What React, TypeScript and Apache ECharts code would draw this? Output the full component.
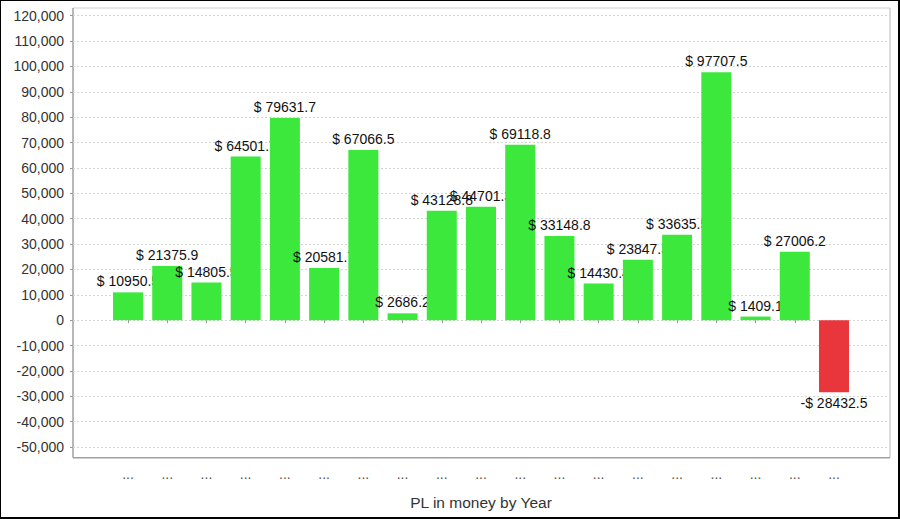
import React, { useEffect, useRef } from "react";
import * as echarts from "echarts";

// ---- data ----
const categories: string[] = [
  "...", "...", "...", "...", "...", "...", "...", "...", "...", "...",
  "...", "...", "...", "...", "...", "...", "...", "...", "...",
];
const values: number[] = [
  10950.5, 21375.9, 14805.5, 64501.7, 79631.7, 20581.7, 67066.5, 2686.2,
  43128.8, 44701.3, 69118.8, 33148.8, 14430.4, 23847.3, 33635.5, 97707.5,
  1409.1, 27006.2, -28432.5,
];
const yMin = -50000;
const yMax = 120000;
const yStep = 10000;
const axisTitle = "PL in money by Year";

const FONT = "'Liberation Sans', Arial, sans-serif";
const GREEN = "#3BE83B";
const RED = "#E8363C";

function fmtMoney(v: number): string {
  return v < 0 ? "-$ " + Math.abs(v) : "$ " + v;
}

export default function App() {
  const ref = useRef<HTMLDivElement>(null);
  useEffect(() => {
    if (!ref.current) return;
    const chart = echarts.init(ref.current, undefined, { renderer: "svg" });

    const W = 900;
    const H = 519;
    const plotL = 73;
    const plotR = 890;
    const frameTop = 8;
    const frameBottom = 457.7;
    const gridTop = 15.7;
    const gridBottomPx = 447;
    const bandL = 108.4;
    const bandR = 853.6;

    const series: any[] = values.map((v, i) => ({
      type: "bar",
      xAxisIndex: 1,
      yAxisIndex: 1,
      barWidth: 30,
      barGap: "-100%",
      z: 2 + i,
      data: values.map((_, j) => (j === i ? v : "-")),
      itemStyle: { color: v < 0 ? RED : GREEN },
      label: {
        show: true,
        position: v < 0 ? "bottom" : "top",
        distance: 4,
        color: "#111",
        fontFamily: FONT,
        fontSize: 14,
        formatter: (p: any) => fmtMoney(p.value),
      },
    }));

    chart.setOption({
      animation: false,
      backgroundColor: "#fff",
      grid: [
        { left: plotL, right: W - plotR, top: gridTop, bottom: H - gridBottomPx },
        { left: bandL, right: W - bandR, top: gridTop, bottom: H - gridBottomPx },
      ],
      xAxis: [
        { type: "value", gridIndex: 0, show: false, min: 0, max: 1 },
        {
          type: "category",
          gridIndex: 1,
          data: categories,
          offset: frameBottom - gridBottomPx,
          axisLine: { show: false },
          axisTick: {
            show: true,
            alignWithLabel: true,
            length: 3,
            lineStyle: { color: "#999" },
          },
          axisLabel: {
            color: "#555",
            fontFamily: FONT,
            fontSize: 14,
            margin: 9,
          },
          name: axisTitle,
          nameLocation: "middle",
          nameGap: 37,
          nameTextStyle: { color: "#333", fontFamily: FONT, fontSize: 15.5 },
        },
      ],
      yAxis: [
        {
          type: "value",
          gridIndex: 0,
          min: yMin,
          max: yMax,
          interval: yStep,
          axisLine: { show: false },
          axisTick: { show: true, length: 3, lineStyle: { color: "#999" } },
          axisLabel: {
            color: "#333",
            fontFamily: FONT,
            fontSize: 14,
            margin: 9,
            formatter: (v: number) => v.toLocaleString("en-US"),
          },
          splitLine: {
            show: true,
            lineStyle: { color: "#d4d4d4", type: [2, 2], width: 1 },
          },
        },
        {
          type: "value",
          gridIndex: 1,
          min: yMin,
          max: yMax,
          interval: yStep,
          show: false,
          splitLine: { show: false },
        },
      ],
      graphic: [
        {
          type: "line",
          shape: { x1: plotL, y1: frameTop, x2: plotR, y2: frameTop },
          style: { stroke: "#d0d0d0", lineWidth: 1 },
          silent: true,
        },
        {
          type: "line",
          shape: { x1: plotR, y1: frameTop, x2: plotR, y2: frameBottom },
          style: { stroke: "#d0d0d0", lineWidth: 1.5 },
          silent: true,
        },
        {
          type: "line",
          shape: { x1: plotL, y1: frameTop, x2: plotL, y2: frameBottom },
          style: { stroke: "#a0a0a0", lineWidth: 1.5 },
          silent: true,
        },
        {
          type: "line",
          shape: { x1: plotL, y1: frameBottom, x2: plotR, y2: frameBottom },
          style: { stroke: "#a0a0a0", lineWidth: 1.5 },
          silent: true,
        },
      ],
      series,
    });

    return () => chart.dispose();
  }, []);

  return (
    <div style={{ position: "fixed", left: 0, top: 0, width: 900, height: 519, background: "#fff" }}>
      <div ref={ref} style={{ width: 900, height: 519 }} />
      <div
        style={{
          position: "absolute",
          left: 0,
          top: 0,
          width: 900,
          height: 519,
          boxSizing: "border-box",
          borderTop: "1px solid #000",
          borderLeft: "1px solid #000",
          borderRight: "2px solid #000",
          borderBottom: "2px solid #000",
          pointerEvents: "none",
        }}
      />
    </div>
  );
}
